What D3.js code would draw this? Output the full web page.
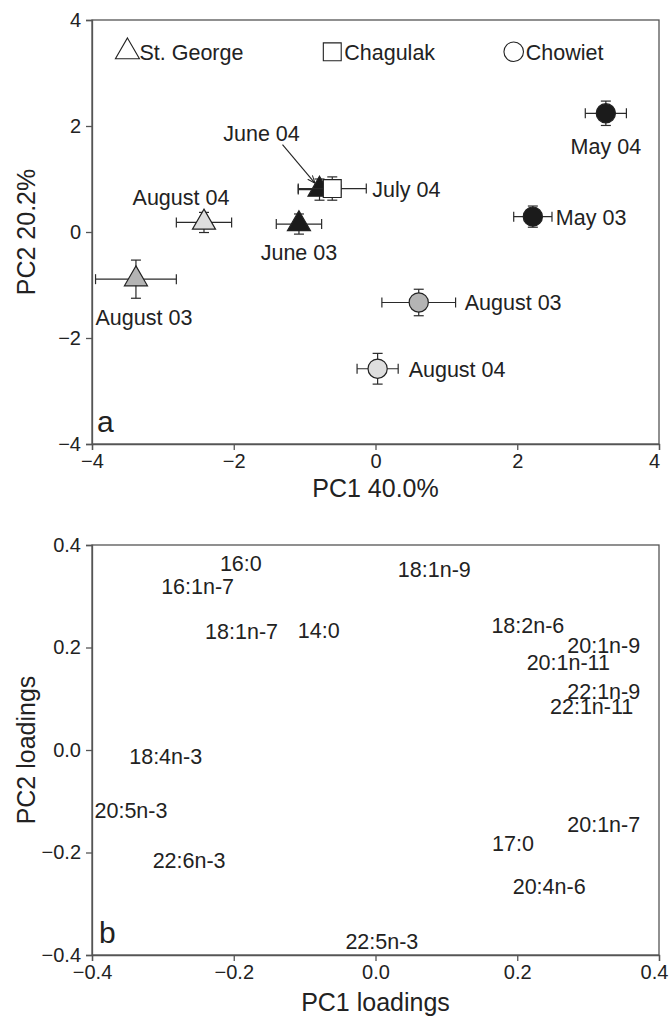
<!DOCTYPE html>
<html>
<head>
<meta charset="utf-8">
<script src="https://cdn.jsdelivr.net/npm/d3@7"></script>
<style>
  body { margin: 0; background: #fff; }
  svg { font-family: "Liberation Sans", Arial, Helvetica, sans-serif; }
  .axis path, .axis line { stroke: #555; stroke-width: 1.3; }
  .axis text { fill: #222; font-size: 20px; }
</style>
</head>
<body>
<script>
// panel a: sample means on PC1 / PC2 with SE
var sites = ["St. George", "Chagulak", "Chowiet"];
var sampleLabels = ["August 03", "August 04", "June 03", "June 04", "July 04",
                    "May 03", "May 04", "August 03", "August 04"];
var sampleSite   = ["St. George", "St. George", "St. George", "St. George", "Chagulak",
                    "Chowiet", "Chowiet", "Chowiet", "Chowiet"];
var samplePeriod = ["Aug 03", "Aug 04", "early", "early", "July",
                    "early", "early", "Aug 03", "Aug 04"];
var pc1    = [-3.38, -2.42, -1.08, -0.79, -0.61, 2.22, 3.25, 0.61, 0.03];
var pc2    = [-0.89, 0.18, 0.15, 0.80, 0.82, 0.29, 2.24, -1.33, -2.58];
var pc1Err = [0.57, 0.39, 0.32, 0.30, 0.48, 0.27, 0.29, 0.52, 0.29];
var pc2Err = [0.36, 0.19, 0.19, 0.20, 0.22, 0.20, 0.23, 0.25, 0.29];
var scoreTicks = [-4, -2, 0, 2, 4];

// panel b: fatty acid loadings
var fattyAcids = ["16:0", "16:1n-7", "18:1n-9", "18:1n-7", "14:0", "18:2n-6",
                  "20:1n-9", "20:1n-11", "22:1n-9", "22:1n-11", "18:4n-3", "20:5n-3",
                  "20:1n-7", "17:0", "22:6n-3", "20:4n-6", "22:5n-3"];
var pc1Load = [-0.190, -0.251, 0.083, -0.189, -0.080, 0.215,
               0.322, 0.272, 0.322, 0.305, -0.296, -0.345,
               0.322, 0.194, -0.263, 0.245, 0.009];
var pc2Load = [0.365, 0.319, 0.353, 0.231, 0.233, 0.244,
               0.205, 0.172, 0.114, 0.085, -0.013, -0.118,
               -0.144, -0.182, -0.216, -0.265, -0.374];
var loadTicks = [-0.4, -0.2, 0.0, 0.2, 0.4];

var width = 671, height = 1018;
var left = 92, right = 659;
var labelSize = 21.5;

var svg = d3.select("body").append("svg")
    .attr("width", width)
    .attr("height", height);

// ---------- panel a ----------
var xA = d3.scaleLinear().domain([-4, 4]).range([left, right]);
var yA = d3.scaleLinear().domain([-4, 4]).range([444, 20]);

var fill = d3.scaleOrdinal()
    .domain(["early", "Aug 03", "Aug 04", "July"])
    .range(["#1b1b1b", "#b4b4b4", "#dedede", "#ffffff"]);

var shape = d3.scaleOrdinal()
    .domain(sites)
    .range([d3.symbolTriangle, d3.symbolSquare, d3.symbolCircle]);
var shapeSize = { "St. George": 230, "Chagulak": 320, "Chowiet": 290 };

function frame(x, y, ticks, fmt) {
  svg.append("rect")
    .attr("x", x.range()[0]).attr("y", y.range()[1])
    .attr("width", x.range()[1] - x.range()[0])
    .attr("height", y.range()[0] - y.range()[1])
    .attr("fill", "none").attr("stroke", "#555").attr("stroke-width", 1.3);

  var xg = svg.append("g").attr("class", "axis")
    .attr("transform", "translate(0," + y.range()[0] + ")")
    .call(d3.axisBottom(x).tickValues(ticks).tickFormat(fmt).tickSizeOuter(0).tickSize(6).tickPadding(4));
  // keep the last label inside the picture
  xg.selectAll(".tick text").filter(function(d) { return d === ticks[ticks.length - 1]; })
    .attr("x", -5);

  svg.append("g").attr("class", "axis")
    .attr("transform", "translate(" + x.range()[0] + ",0)")
    .call(d3.axisLeft(y).tickValues(ticks).tickFormat(fmt).tickSizeOuter(0).tickSize(6).tickPadding(5));
}

frame(xA, yA, scoreTicks, d3.format("d"));

var pts = d3.range(pc1.length).map(function(i) {
  return { i: i, x: pc1[i], y: pc2[i], ex: pc1Err[i], ey: pc2Err[i],
           site: sampleSite[i], period: samplePeriod[i], label: sampleLabels[i] };
});

var cap = 5;
var g = svg.append("g").attr("stroke", "#2a2a2a").attr("stroke-width", 1.2);

pts.forEach(function(d) {
  var cx = xA(d.x), cy = yA(d.y);
  var x0 = xA(d.x - d.ex), x1 = xA(d.x + d.ex);
  var y0 = yA(d.y - d.ey), y1 = yA(d.y + d.ey);
  g.append("line").attr("x1", x0).attr("x2", x1).attr("y1", cy).attr("y2", cy);
  g.append("line").attr("x1", x0).attr("x2", x0).attr("y1", cy - cap).attr("y2", cy + cap);
  g.append("line").attr("x1", x1).attr("x2", x1).attr("y1", cy - cap).attr("y2", cy + cap);
  g.append("line").attr("x1", cx).attr("x2", cx).attr("y1", y0).attr("y2", y1);
  g.append("line").attr("x1", cx - cap).attr("x2", cx + cap).attr("y1", y0).attr("y2", y0);
  g.append("line").attr("x1", cx - cap).attr("x2", cx + cap).attr("y1", y1).attr("y2", y1);
  g.append("path")
    .attr("d", d3.symbol(shape(d.site), shapeSize[d.site])())
    .attr("transform", "translate(" + cx + "," + cy + ")")
    .attr("fill", fill(d.period))
    .attr("stroke", "#222");
});

// label placement relative to each point (px)
var labelPos = [
  { dx: 8, dy: 46, anchor: "middle" },
  { dx: -23, dy: -17, anchor: "middle" },
  { dx: 0, dy: 36, anchor: "middle" },
  { dx: -58, dy: -49, anchor: "middle" },
  { dx: 40, dy: 8, anchor: "start" },
  { dx: 23, dy: 8, anchor: "start" },
  { dx: 0, dy: 41, anchor: "middle" },
  { dx: 46, dy: 8, anchor: "start" },
  { dx: 31, dy: 8, anchor: "start" }
];

svg.append("g").selectAll("text")
  .data(pts)
  .enter().append("text")
    .attr("x", function(d) { return xA(d.x) + labelPos[d.i].dx; })
    .attr("y", function(d) { return yA(d.y) + labelPos[d.i].dy; })
    .attr("text-anchor", function(d) { return labelPos[d.i].anchor; })
    .attr("font-size", labelSize)
    .attr("fill", "#222")
    .text(function(d) { return d.label; });

// arrow to the hidden June 04 triangle
svg.append("defs").append("marker")
    .attr("id", "arr").attr("viewBox", "0 0 10 10")
    .attr("refX", 9).attr("refY", 5)
    .attr("markerWidth", 7).attr("markerHeight", 7)
    .attr("orient", "auto")
  .append("path").attr("d", "M0,1 L10,5 L0,9").attr("fill", "none").attr("stroke", "#222").attr("stroke-width", 1.3);

var j = pts[3];
svg.append("line")
    .attr("x1", xA(j.x) - 37).attr("y1", yA(j.y) - 45)
    .attr("x2", xA(j.x) - 5).attr("y2", yA(j.y) - 7)
    .attr("stroke", "#222").attr("stroke-width", 1.1)
    .attr("marker-end", "url(#arr)");

// legend
var legX = [-3.5, -0.61, 1.95];
var leg = svg.append("g").selectAll("g")
  .data(sites)
  .enter().append("g")
    .attr("transform", function(d, i) { return "translate(" + xA(legX[i]) + "," + yA(3.4) + ")"; });
leg.append("path")
    .attr("d", function(d) { return d3.symbol(shape(d), d === "St. George" ? 250 : d === "Chagulak" ? 320 : 300)(); })
    .attr("fill", "#fff").attr("stroke", "#222").attr("stroke-width", 1.1);
leg.append("text")
    .attr("x", 12).attr("y", 8)
    .attr("font-size", labelSize).attr("fill", "#222")
    .text(function(d) { return d; });

svg.append("text").attr("x", 97).attr("y", 432)
    .attr("font-size", 30).attr("fill", "#222").text("a");

svg.append("text")
    .attr("x", (left + right) / 2).attr("y", 497)
    .attr("text-anchor", "middle").attr("font-size", 25).attr("fill", "#222")
    .text("PC1 40.0%");
svg.append("text")
    .attr("transform", "translate(35,232) rotate(-90)")
    .attr("text-anchor", "middle").attr("font-size", 25).attr("fill", "#222")
    .text("PC2 20.2%");

// ---------- panel b ----------
var xB = d3.scaleLinear().domain([-0.4, 0.4]).range([left, right]);
var yB = d3.scaleLinear().domain([-0.4, 0.4]).range([955, 545]);

frame(xB, yB, loadTicks, d3.format(".1f"));

svg.append("g").selectAll("text")
  .data(fattyAcids)
  .enter().append("text")
    .attr("x", function(d, i) { return xB(pc1Load[i]); })
    .attr("y", function(d, i) { return yB(pc2Load[i]); })
    .attr("dy", "0.36em")
    .attr("text-anchor", "middle")
    .attr("font-size", labelSize)
    .attr("fill", "#222")
    .text(function(d) { return d; });

svg.append("text").attr("x", 99).attr("y", 943)
    .attr("font-size", 30).attr("fill", "#222").text("b");

svg.append("text")
    .attr("x", (left + right) / 2).attr("y", 1011)
    .attr("text-anchor", "middle").attr("font-size", 25).attr("fill", "#222")
    .text("PC1 loadings");
svg.append("text")
    .attr("transform", "translate(35,750) rotate(-90)")
    .attr("text-anchor", "middle").attr("font-size", 25).attr("fill", "#222")
    .text("PC2 loadings");
</script>
</body>
</html>
